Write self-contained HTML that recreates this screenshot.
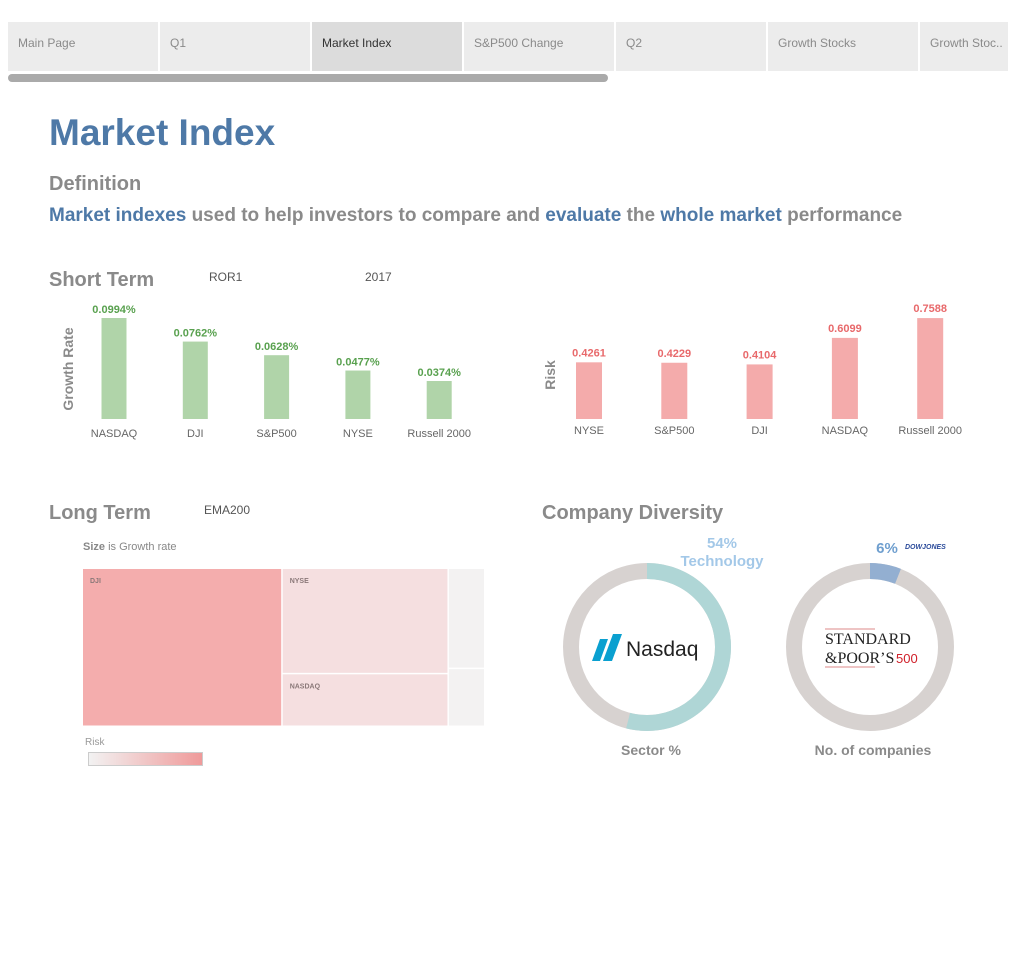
<!DOCTYPE html>
<html><head><meta charset="utf-8"><style>
body{margin:0;width:1015px;height:963px;background:#fff;font-family:"Liberation Sans",sans-serif;position:relative;overflow:hidden}
.abs{position:absolute}
.tab{position:absolute;top:22px;height:49px;width:150px;background:#ececec;color:#8a8a8a;font-size:12px;line-height:42px;padding-left:10px;box-sizing:border-box}
.h2{position:absolute;font-size:20px;font-weight:bold;color:#8a8a8a}
.small{position:absolute;font-size:12px;color:#555}
</style></head><body>
<div class="tab" style="left:8px">Main Page</div>
<div class="tab" style="left:160px">Q1</div>
<div class="tab" style="left:312px;background:#dcdcdc;color:#333">Market Index</div>
<div class="tab" style="left:464px">S&amp;P500 Change</div>
<div class="tab" style="left:616px">Q2</div>
<div class="tab" style="left:768px">Growth Stocks</div>
<div class="tab" style="left:920px;width:88px">Growth Stoc..</div>
<div class="abs" style="left:8px;top:74px;width:600px;height:8px;border-radius:4px;background:#aaa"></div>

<div class="abs" style="left:49px;top:112px;font-size:37px;font-weight:bold;color:#4e79a7">Market Index</div>
<div class="h2" style="left:49px;top:173px">Definition</div>
<div class="abs" style="left:49px;top:205px;font-size:19px;font-weight:bold;color:#8a8a8a;white-space:nowrap"><span style="color:#4e79a7">Market indexes</span> used to help investors to compare and <span style="color:#4e79a7">evaluate</span> the <span style="color:#4e79a7">whole market</span> performance</div>

<div class="h2" style="left:49px;top:269px">Short Term</div>
<div class="small" style="left:209px;top:270px">ROR1</div>
<div class="small" style="left:365px;top:270px">2017</div>
<div class="h2" style="left:49px;top:502px">Long Term</div>
<div class="small" style="left:204px;top:503px">EMA200</div>
<div class="h2" style="left:542px;top:502px">Company Diversity</div>
<div class="abs" style="left:83px;top:541px;font-size:11px;color:#888"><b>Size</b> is Growth rate</div>
<div class="abs" style="left:85px;top:737px;font-size:10px;color:#999">Risk</div>
<div class="abs" style="left:88px;top:752px;width:113px;height:12px;border:1px solid #ccc;background:linear-gradient(90deg,#f2f2f2,#ef9a9a)"></div>

<svg class="abs" style="left:0;top:0" width="1015" height="963" id="chart"></svg>
<script>
const NS="http://www.w3.org/2000/svg";
const svg=document.getElementById('chart');
function mk(t,a,txt){const e=document.createElementNS(NS,t);for(const k in a)e.setAttribute(k,a[k]);if(txt!==undefined)e.textContent=txt;svg.appendChild(e);return e;}

const growthCats=["NASDAQ","DJI","S&P500","NYSE","Russell 2000"];
const growthVals=[0.0994,0.0762,0.0628,0.0477,0.0374];
const riskCats=["NYSE","S&P500","DJI","NASDAQ","Russell 2000"];
const riskVals=[0.4261,0.4229,0.4104,0.6099,0.7588];
const treeCats=["DJI","NYSE","NASDAQ","Other1","Other2"];
const treeVals=[31100,17260,8630,3460,2000];
const sectorPct=[54];
const dowPct=[6];

const base=419;
const gy=v=>base-v*1016;
const gx=i=>114+i*81.3;
growthCats.forEach((c,i)=>{
  const v=growthVals[i];
  let r=mk('rect',{x:gx(i)-12.5,y:gy(v),width:25,height:base-gy(v),fill:'#b0d4a9'});
  
  
  let t=mk('text',{x:gx(i),y:gy(v)-5,'text-anchor':'middle','font-size':11,'font-weight':'bold',fill:'#59a14f'},v.toFixed(4)+'%');
  
  
  let l=mk('text',{x:gx(i),y:437,'text-anchor':'middle','font-size':11,fill:'#666'},c);
  
  
});
let ya=mk('text',{x:73,y:369,'text-anchor':'middle','font-size':14,'font-weight':'bold',fill:'#8a8a8a',transform:'rotate(-90 73 369)'},'Growth Rate');



const ry=v=>base-v*133;
const rx=i=>589+i*85.3;
riskCats.forEach((c,i)=>{
  const v=riskVals[i];
  let r=mk('rect',{x:rx(i)-13,y:ry(v),width:26,height:base-ry(v),fill:'#f4abab'});
  
  
  let t=mk('text',{x:rx(i),y:ry(v)-6,'text-anchor':'middle','font-size':11,'font-weight':'bold',fill:'#e8696b'},v.toFixed(4));
  
  
  let l=mk('text',{x:rx(i),y:434,'text-anchor':'middle','font-size':11,fill:'#666'},c);
  
  
});
let ra=mk('text',{x:555,y:375,'text-anchor':'middle','font-size':14,'font-weight':'bold',fill:'#8a8a8a',transform:'rotate(-90 555 375)'},'Risk');



const TX=83,TY=569,TW=401,TH=158;
const tot=treeVals.reduce((a,b)=>a+b,0);
const fills=['#f4adad','#f5dfe0','#f5dfe0','#f3f2f2','#f3f2f2'];
function cell(i,x,y,w,h){
  let r=mk('rect',{x:x,y:y,width:w-1.5,height:h-1.5,fill:fills[i]});
  
  
  if(i<3){let t=mk('text',{x:x+7,y:y+14,'font-size':7,'font-weight':'bold',fill:'#8a7878'},treeCats[i]);
    
    }
}
let cx=TX;
const w0=TW*treeVals[0]/tot; cell(0,cx,TY,w0,TH); cx+=w0;
const s1=treeVals[1]+treeVals[2], w1=TW*s1/tot;
const h1=TH*treeVals[1]/s1; cell(1,cx,TY,w1,h1); cell(2,cx,TY+h1,w1,TH-h1); cx+=w1;
const s2=treeVals[3]+treeVals[4], w2=TW*s2/tot;
const h3=TH*treeVals[3]/s2; cell(3,cx,TY,w2+1.5,h3); cell(4,cx,TY+h3,w2+1.5,TH-h3);

function arcPath(cx,cy,r,p){
  const a=p/100*2*Math.PI;
  const x=cx+r*Math.sin(a),y=cy-r*Math.cos(a);
  return `M${cx} ${cy-r} A${r} ${r} 0 ${p>50?1:0} 1 ${x} ${y}`;
}
function donut(cx,cy,p,col,name){
  let c=mk('circle',{cx:cx,cy:cy,r:76,fill:'none',stroke:'#d7d2d0','stroke-width':16});
  
  
  let a=mk('path',{d:arcPath(cx,cy,76,p),fill:'none',stroke:col,'stroke-width':16});
  
  
}
donut(647,647,sectorPct[0],'#afd6d6','sector');
donut(870,647,dowPct[0],'#93afd1','companies');
let t1=mk('text',{x:722,y:548,'text-anchor':'middle','font-size':15,'font-weight':'bold',fill:'#a3c8e8'},sectorPct[0]+'%');


let t2=mk('text',{x:722,y:566,'text-anchor':'middle','font-size':15,'font-weight':'bold',fill:'#a3c8e8'},'Technology');


let t3=mk('text',{x:887,y:553,'text-anchor':'middle','font-size':15,'font-weight':'bold',fill:'#6f9fcf'},dowPct[0]+'%');


let t4=mk('text',{x:905,y:549,'font-size':7,'font-weight':'bold','font-style':'italic',fill:'#2a4a9a'},'DOWJONES');


let lg=mk('path',{d:'M592 661 L600 639 L608 639 L600 661 Z M603 661 L613 634 L622 634 L612 661 Z',fill:'#0aa0d0'});


let nt=mk('text',{x:626,y:656,'font-size':21,fill:'#222'},'Nasdaq');


mk('line',{x1:825,y1:629,x2:875,y2:629,stroke:'#d88',"stroke-width":1});
mk('line',{x1:825,y1:667,x2:875,y2:667,stroke:'#d88',"stroke-width":1});
let s1t=mk('text',{x:825,y:644,'font-size':16,'font-family':'Liberation Serif',fill:'#222'},'STANDARD');


let s2t=mk('text',{x:825,y:663,'font-size':16,'font-family':'Liberation Serif',fill:'#222'},'&POOR’S');


let s3t=mk('text',{x:896,y:663,'font-size':13,fill:'#d0202a'},'500');


let c1=mk('text',{x:651,y:755,'text-anchor':'middle','font-size':14,'font-weight':'bold',fill:'#8a8a8a'},'Sector %');


let c2=mk('text',{x:873,y:755,'text-anchor':'middle','font-size':14,'font-weight':'bold',fill:'#8a8a8a'},'No. of companies');


</script>
</body></html>
